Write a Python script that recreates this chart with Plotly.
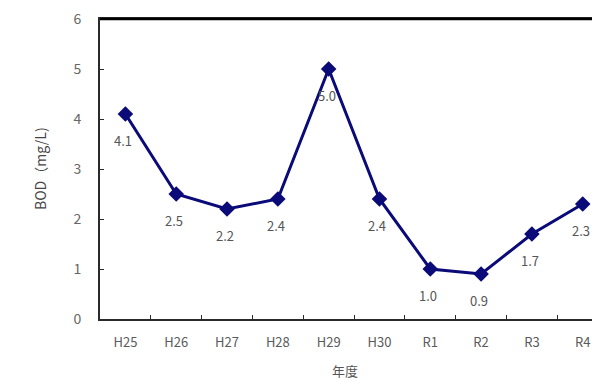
import plotly.graph_objects as go

years = ["H25", "H26", "H27", "H28", "H29", "H30", "R1", "R2", "R3", "R4"]
bod = [4.1, 2.5, 2.2, 2.4, 5.0, 2.4, 1.0, 0.9, 1.7, 2.3]
y_ticks = [0, 1, 2, 3, 4, 5, 6]

FONT = "Noto Sans CJK JP, Liberation Sans, sans-serif"
NAVY = "#0a0a78"
AXIS = "#2a2a2a"

L, T, B, W, H = 92, 11, 59, 592, 370
PH = H - T - B
PW = W - L

fig = go.Figure()
fig.add_trace(go.Scatter(
    x=years, y=bod, mode="lines+markers",
    line=dict(color=NAVY, width=3),
    marker=dict(symbol="diamond", size=12, color=NAVY),
    showlegend=False, cliponaxis=False,
))
for cat, v in zip(years, bod):
    fig.add_annotation(x=cat, y=v, text=f"{v:.1f}", showarrow=False,
                       yshift=-26, xshift=-2,
                       font=dict(family=FONT, size=13, color="#555555"))

fig.update_layout(
    width=W, height=H,
    margin=dict(l=L, r=0, t=T, b=B, autoexpand=False),
    paper_bgcolor="white", plot_bgcolor="white",
    font=dict(family=FONT, size=13, color="#555555"),
)
fig.update_xaxes(
    type="category", range=[-0.5, 9.34], tickson="boundaries",
    ticks="inside", ticklen=4, tickwidth=1, tickcolor=AXIS,
    showline=True, linecolor=AXIS, linewidth=2, mirror=True,
    showgrid=False, zeroline=False, ticklabelstandoff=10,
    tickfont=dict(color="#5a5a5a"),
)
fig.update_yaxes(
    range=[0, 6], tickvals=y_ticks,
    ticks="inside", ticklen=4, tickwidth=1, tickcolor=AXIS,
    showline=True, linecolor=AXIS, linewidth=2,
    showgrid=False, zeroline=False, ticklabelstandoff=14,
    ticklabeloverflow="allow",
    tickfont=dict(size=14, color="#666666"),
)
fig.add_shape(type="line", xref="paper", yref="paper", x0=0, x1=1.02,
              y0=1.0, y1=1.0, line=dict(color="black", width=2.5), layer="above")
fig.add_annotation(xref="paper", yref="paper", x=(20 - L) / PW, y=0.5,
                   text="BOD（mg/L)", textangle=-90, showarrow=False,
                   font=dict(family=FONT, size=14, color="#444444"))
fig.add_annotation(xref="paper", yref="paper", x=(337 - L) / PW,
                   y=-(362 - (T + PH)) / PH,
                   yanchor="middle", text="年度", showarrow=False,
                   font=dict(family=FONT, size=13, color="#555555"))

fig.write_html("out.html")
